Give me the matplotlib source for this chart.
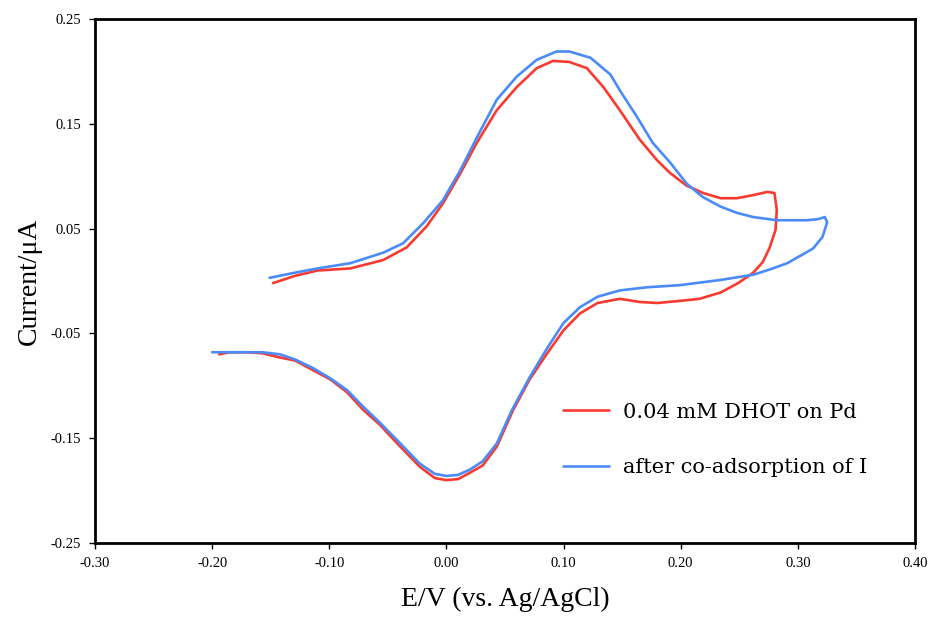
import matplotlib
matplotlib.use("Agg")
import matplotlib.pyplot as plt

# Red: 0.04 mM DHOT on Pd
red_x = [-0.148, -0.129, -0.110, -0.082, -0.054, -0.034, -0.017, -0.003, 0.012, 0.026,
         0.043, 0.060, 0.077, 0.091, 0.105, 0.120, 0.134, 0.148, 0.165, 0.180,
         0.191, 0.205, 0.219, 0.234, 0.248, 0.262, 0.274, 0.280, 0.282, 0.281,
         0.276, 0.270, 0.262, 0.249, 0.234, 0.216, 0.199, 0.180, 0.165, 0.148,
         0.129, 0.114, 0.100, 0.086, 0.071, 0.057, 0.043, 0.031, 0.020, 0.010,
         0.000, -0.010, -0.023, -0.042, -0.057, -0.071, -0.085, -0.099, -0.114, -0.129,
         -0.142, -0.157, -0.170, -0.185, -0.194]
red_y = [-0.002, 0.005, 0.010, 0.012, 0.020, 0.032, 0.052, 0.074, 0.103, 0.132,
         0.163, 0.185, 0.203, 0.210, 0.209, 0.203, 0.185, 0.163, 0.135, 0.115,
         0.103, 0.091, 0.084, 0.079, 0.079, 0.082, 0.085, 0.084, 0.068, 0.049,
         0.032, 0.018, 0.008, -0.002, -0.011, -0.017, -0.019, -0.021, -0.020, -0.017,
         -0.021, -0.031, -0.047, -0.069, -0.094, -0.123, -0.158, -0.176, -0.183, -0.189,
         -0.190, -0.188, -0.177, -0.155, -0.137, -0.123, -0.106, -0.094, -0.085, -0.076,
         -0.073, -0.069, -0.068, -0.068, -0.070]

# Blue: after co-adsorption of I
blue_x = [-0.151, -0.129, -0.110, -0.082, -0.054, -0.037, -0.020, -0.003, 0.012, 0.026,
          0.043, 0.060, 0.077, 0.094, 0.105, 0.123, 0.140, 0.148, 0.163, 0.176,
          0.191, 0.205, 0.219, 0.234, 0.248, 0.262, 0.282, 0.308, 0.317, 0.323,
          0.325, 0.321, 0.313, 0.302, 0.291, 0.276, 0.262, 0.234, 0.199, 0.171,
          0.148, 0.129, 0.114, 0.100, 0.086, 0.071, 0.056, 0.043, 0.031,
          0.020, 0.010, 0.000, -0.010, -0.023, -0.042, -0.057, -0.071, -0.085, -0.099,
          -0.114, -0.129, -0.142, -0.157, -0.172, -0.185, -0.200]
blue_y = [0.003, 0.008, 0.012, 0.017, 0.027, 0.036, 0.055, 0.077, 0.106, 0.137,
          0.173, 0.195, 0.211, 0.219, 0.219, 0.213, 0.197, 0.182, 0.156, 0.132,
          0.113, 0.093, 0.080, 0.071, 0.065, 0.061, 0.058, 0.058, 0.059, 0.061,
          0.056, 0.042, 0.031, 0.024, 0.017, 0.011, 0.006, 0.001, -0.004, -0.006,
          -0.009, -0.015, -0.025, -0.040, -0.064, -0.092, -0.123, -0.155, -0.172,
          -0.180, -0.185, -0.186, -0.184, -0.174, -0.152, -0.135, -0.120, -0.104, -0.093,
          -0.083, -0.075, -0.070, -0.068, -0.068, -0.068, -0.068]

labels = ["0.04 mM DHOT on Pd", "after co-adsorption of I"]
x_ticks = [-0.30, -0.20, -0.10, 0.00, 0.10, 0.20, 0.30, 0.40]
y_ticks = [-0.25, -0.15, -0.05, 0.05, 0.15, 0.25]

plt.rcParams['font.family'] = ['Liberation Serif', 'DejaVu Serif']

fig = plt.figure(figsize=(9.32, 6.22), dpi=100)
ax = fig.add_axes([95/932, 79/622, 820/932, 524/622])

ax.plot(red_x, red_y, color="#f93a2f", lw=1.9, label=labels[0],
        solid_capstyle='round', solid_joinstyle='round')
ax.plot(blue_x, blue_y, color="#4b8bf7", lw=1.9, label=labels[1],
        solid_capstyle='round', solid_joinstyle='round')

ax.set_xlim(-0.30, 0.40)
ax.set_ylim(-0.25, 0.25)
ax.set_xticks(x_ticks)
ax.set_xticklabels([f"{v:.2f}" for v in x_ticks])
ax.set_yticks(y_ticks)
ax.set_yticklabels([f"{v:.2f}" for v in y_ticks])
ax.tick_params(direction='out', length=4, width=1, labelsize=10.5, pad=6)

for s in ax.spines.values():
    s.set_linewidth(2)
    s.set_color('black')

ax.set_xlabel("E/V (vs. Ag/AgCl)", fontsize=20, labelpad=12)
ax.set_ylabel("Current/\u03bcA", fontsize=20, labelpad=6)

leg = ax.legend(loc='center left', bbox_to_anchor=((563-95)/820, (543-440)/524),
                frameon=False, handlelength=2.2, handletextpad=0.7,
                labelspacing=1.75, borderpad=0, borderaxespad=0,
                prop={'family': 'DejaVu Serif', 'size': 15})

fig.savefig("out.png", dpi=100)
